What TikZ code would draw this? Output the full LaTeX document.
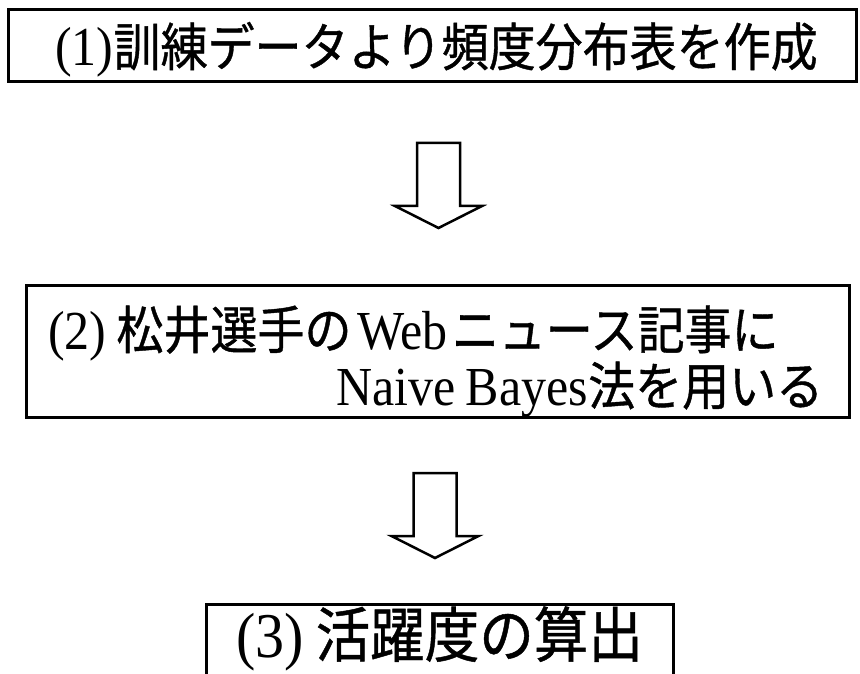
\documentclass[tikz,border=0pt]{standalone}
\usepackage{fontspec}
\usepackage{graphicx}
\setmainfont{Liberation Serif}
\newfontfamily\jp[FakeBold=0.8,Scale=0.94]{Noto Sans CJK JP}
\newcommand{\tall}[1]{\scalebox{1}[1.1]{#1}}
\tikzset{
  box/.style={draw=black, line width=3pt, fill=none, inner sep=0pt},
  blk/.style={draw=black, line width=2.5pt, line join=miter, fill=white},
  txt/.style={inner sep=0pt, font=\fontsize{50pt}{49pt}\selectfont},
  bigtxt/.style={inner sep=0pt, font=\fontsize{58pt}{58pt}\selectfont},
}
\begin{document}
\begin{tikzpicture}[x=1pt,y=1pt]
\useasboundingbox (0,0) rectangle (860,-674);
\clip (0,0) rectangle (860,-674);
% boxes
\node[box, minimum width=848pt, minimum height=72pt] (b1) at (432,-46) {};
\node[box, minimum width=823pt, minimum height=132pt] (b2) at (437.5,-351) {};
\node[box, minimum width=467pt, minimum height=110pt] (b3) at (439.5,-659) {};
% texts
\node[txt, anchor=base] (t1) at (436.5,-66) {\tall{(1){\jp 訓練データより頻度分布表を作成}}};
\node[txt, anchor=base west, text width=775pt, align=left] (t2) at (48,-349)
  {\makebox[775pt][l]{\tall{(2)\kern10pt{\jp 松井選手の}\kern6pt Web\kern4pt{\jp ニュース記事に}}}\\
   \makebox[775pt][r]{\tall{Naive\kern10pt Bayes{\jp 法を用いる}}}};
\node[bigtxt, anchor=base] (t3) at (439.5,-657) {\tall{(3)\kern12pt{\jp 活躍度の算出}}};
% block arrows
\coordinate (a1) at (438.5,-143);
\coordinate (a2) at (435,-473);
\foreach \c in {a1,a2}{
  \draw[blk] (\c) ++(-21.5,0) -- ++(0,-63) -- ++(-22,0) -- ++(43.5,-22)
    -- ++(43.5,22) -- ++(-22,0) -- ++(0,63) -- cycle;
}
\end{tikzpicture}
\end{document}
